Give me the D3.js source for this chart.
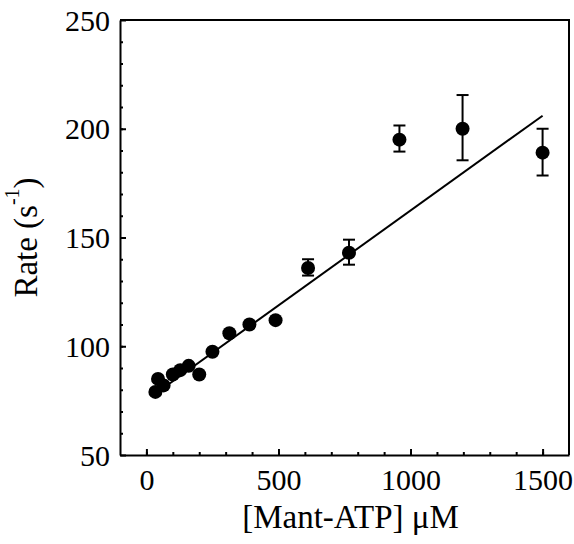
<!DOCTYPE html>
<html>
<head>
<meta charset="utf-8">
<script src="https://cdn.jsdelivr.net/npm/d3@7"></script>
<style>
  body { margin: 0; background: #fff; }
  svg text { font-family: "Liberation Serif", "Times New Roman", serif; fill: #000; }
  .axis path, .axis line { stroke: #000; stroke-width: 2px; }
</style>
</head>
<body>
<div id="chart"></div>
<script>
'use strict';

// data
var concs = [34, 44, 65, 100, 128, 160, 200, 250, 314, 390, 489, 612, 767, 958, 1197, 1500];
var rates = [79, 85, 82, 87, 89, 91, 87, 97.5, 106, 110, 112, 136, 143, 195, 200, 189];
var errLow = [null, null, null, null, null, null, null, null, null, null, null, 132.5, 137.5, 189.5, 185.5, 178.5];
var errHigh = [null, null, null, null, null, null, null, null, null, null, null, 140, 149, 201.5, 215.5, 200];
var fitX = [30, 1500];
var fitY = [77.8, 206];
var xTicks = [0, 500, 1000, 1500];
var yTicks = [50, 100, 150, 200, 250];

var margin = {top: 20, right: 5, bottom: 89, left: 120};
var W = 574, H = 544;
var width = W - margin.left - margin.right;
var height = H - margin.top - margin.bottom;

var svg = d3.select('#chart')
  .append('svg')
  .attr('width', W)
  .attr('height', H)
  .append('g')
  .attr('transform', 'translate(' + margin.left + ',' + margin.top + ')');

var x = d3.scaleLinear().domain([-100, 1600]).range([0, width]);
var y = d3.scaleLinear().domain([50, 250]).range([height, 0]);

// frame (top and right)
svg.append('path')
  .attr('d', 'M0,0H' + width + 'V' + height)
  .attr('fill', 'none')
  .attr('stroke', '#000')
  .attr('stroke-width', 2);

// minor ticks
svg.append('g')
  .attr('class', 'x axis minor')
  .attr('transform', 'translate(0,' + height + ')')
  .call(d3.axisBottom(x).tickValues(d3.range(0, 1600, 100)).tickSize(-3).tickFormat(''))
  .call(function(g) { g.select('.domain').remove(); });

svg.append('g')
  .attr('class', 'y axis minor')
  .call(d3.axisLeft(y).tickValues(d3.range(60, 250, 10)).tickSize(-3).tickFormat(''))
  .call(function(g) { g.select('.domain').remove(); });

// major axes
svg.append('g')
  .attr('class', 'x axis')
  .attr('transform', 'translate(0,' + height + ')')
  .call(d3.axisBottom(x).tickValues(xTicks).tickFormat(d3.format('d'))
    .tickSizeInner(-6).tickSizeOuter(0).tickPadding(14))
  .call(function(g) {
    g.selectAll('text').attr('font-size', 30).attr('dy', '0.71em');
  });

svg.append('g')
  .attr('class', 'y axis')
  .call(d3.axisLeft(y).tickValues(yTicks).tickFormat(d3.format('d'))
    .tickSizeInner(-6).tickSizeOuter(0).tickPadding(10))
  .call(function(g) {
    g.selectAll('text').attr('font-size', 30).attr('dy', '0.34em');
  });

d3.selectAll('.axis text').attr('fill', '#000').style('font-family', '"Liberation Serif", serif');

// fit line
svg.append('line')
  .attr('x1', x(fitX[0])).attr('y1', y(fitY[0]))
  .attr('x2', x(fitX[1])).attr('y2', y(fitY[1]))
  .attr('stroke', '#000')
  .attr('stroke-width', 2);

var pts = concs.map(function(c, i) {
  return {x: c, y: rates[i], lo: errLow[i], hi: errHigh[i]};
});

// error bars
var eb = svg.append('g').attr('class', 'errors')
  .selectAll('g')
  .data(pts.filter(function(d) { return d.lo !== null; }))
  .enter()
  .append('g')
  .attr('stroke', '#000')
  .attr('stroke-width', 2);

eb.append('line')
  .attr('x1', function(d) { return x(d.x); })
  .attr('x2', function(d) { return x(d.x); })
  .attr('y1', function(d) { return y(d.lo); })
  .attr('y2', function(d) { return y(d.hi); });

[ 'lo', 'hi' ].forEach(function(k) {
  eb.append('line')
    .attr('x1', function(d) { return x(d.x) - 6; })
    .attr('x2', function(d) { return x(d.x) + 6; })
    .attr('y1', function(d) { return y(d[k]); })
    .attr('y2', function(d) { return y(d[k]); });
});

// points
svg.append('g').attr('class', 'points')
  .selectAll('circle')
  .data(pts)
  .enter()
  .append('circle')
  .attr('cx', function(d) { return x(d.x); })
  .attr('cy', function(d) { return y(d.y); })
  .attr('r', 7)
  .attr('fill', '#000');

// axis titles
svg.append('text')
  .attr('x', width / 2 + 6)
  .attr('y', height + 73)
  .attr('text-anchor', 'middle')
  .attr('font-size', 33)
  .text('[Mant-ATP] \u03bcM');

var yt = svg.append('text')
  .attr('transform', 'translate(' + (37 - margin.left) + ',' + (height / 2) + ') rotate(-90)')
  .attr('text-anchor', 'middle')
  .attr('font-size', 33);
yt.append('tspan').text('Rate (s');
yt.append('tspan').attr('font-size', 20).attr('dy', '-0.9em').text('-1');
yt.append('tspan').attr('dy', '0.55em').text(')');
</script>
</body>
</html>
